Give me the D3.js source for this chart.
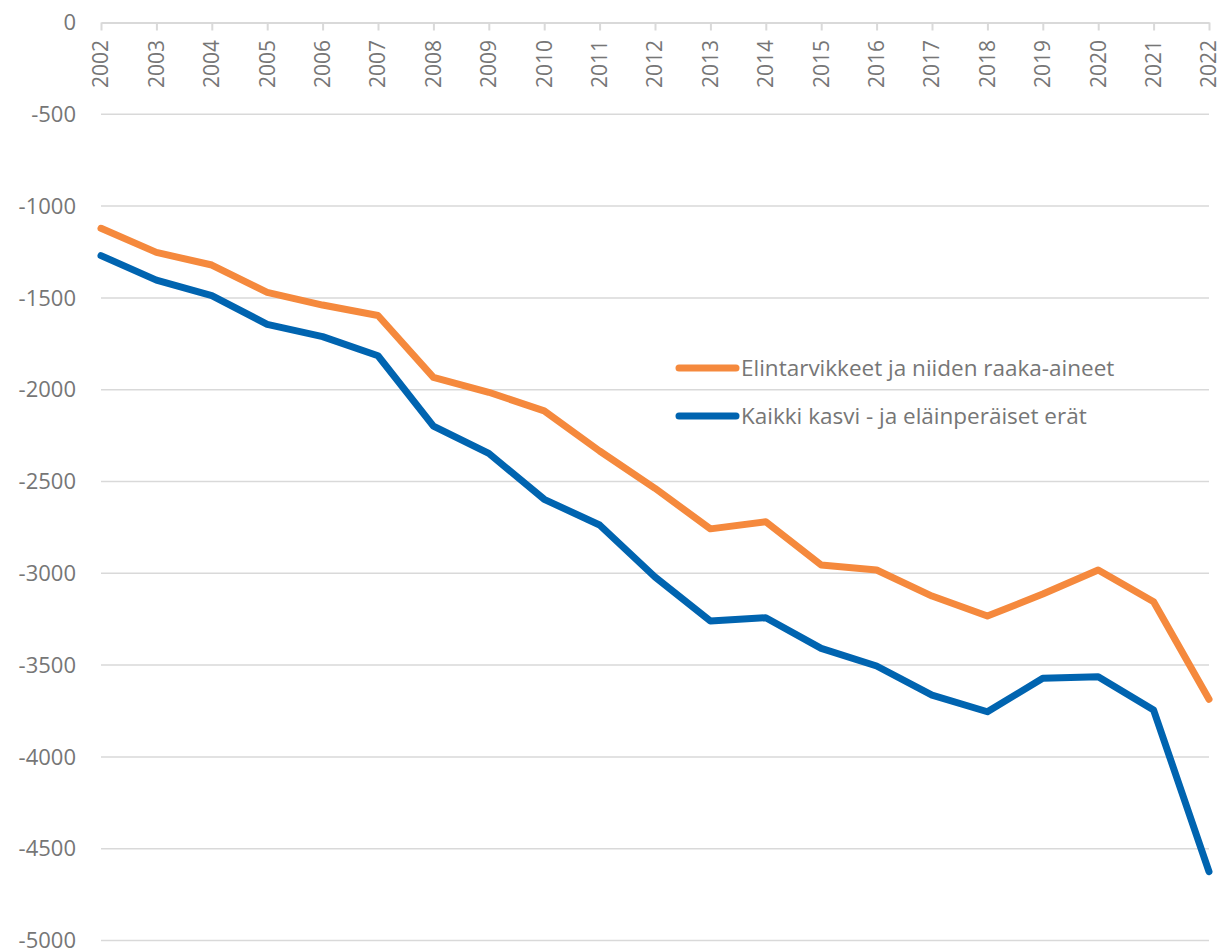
<!DOCTYPE html>
<html>
<head>
<meta charset="utf-8">
<script src="https://cdn.jsdelivr.net/npm/d3@7"></script>
<style>
    body { margin: 0; background: #fff; }
    text { font-family: "Open Sans", sans-serif; fill: #767676; }
</style>
</head>
<body>
<div id="chart"></div>
<script>
// data
var years = d3.range(2002, 2023);
var foodValues = [-1121, -1252, -1321, -1470, -1539, -1596, -1933, -2014, -2115, -2334, -2537, -2758,
    -2719, -2955, -2982, -3124, -3233, -3113, -2982, -3155, -3686];
var allValues = [-1270, -1403, -1488, -1644, -1711, -1815, -2198, -2347, -2597, -2737, -3020, -3260,
    -3242, -3409, -3505, -3663, -3754, -3572, -3563, -3745, -4625];
var yTicks = d3.range(0, -5001, -500);
var seriesNames = ["Elintarvikkeet ja niiden raaka-aineet", "Kaikki kasvi - ja eläinperäiset erät"];
var seriesColors = ["#F5893D", "#0064B0"];

var width = 1218, height = 952;

var svg = d3.select("#chart").append("svg")
    .attr("width", width)
    .attr("height", height);

// scales
var xScale = d3.scalePoint()
    .domain(years)
    .range([101, 1209]);

var yScale = d3.scaleLinear()
    .domain([0, -5000])
    .range([22.5, 940.5]);

// horizontal gridlines
svg.append("g")
    .selectAll("line")
    .data(yTicks.slice(1))
    .enter().append("line")
    .attr("x1", 101)
    .attr("x2", 1209)
    .attr("y1", function (d) { return yScale(d); })
    .attr("y2", function (d) { return yScale(d); })
    .attr("stroke", "#d9d9d9")
    .attr("stroke-width", 1.5);

// y labels
svg.append("g")
    .selectAll("text")
    .data(yTicks)
    .enter().append("text")
    .attr("x", 76)
    .attr("y", function (d) { return yScale(d); })
    .attr("dy", "0.35em")
    .attr("text-anchor", "end")
    .style("font-size", "22px")
    .text(function (d) { return d; });

// x axis at the top (value 0)
var xAxis = svg.append("g")
    .attr("transform", "translate(0," + yScale(0) + ")")
    .call(d3.axisBottom(xScale).tickSize(8).tickSizeOuter(0).tickFormat(""));
xAxis.select(".domain").attr("stroke", "#d9d9d9").attr("stroke-width", 2);
xAxis.selectAll(".tick line").attr("stroke", "#d9d9d9").attr("stroke-width", 2);

// rotated year labels
svg.append("g")
    .selectAll("text")
    .data(years)
    .enter().append("text")
    .attr("transform", function (d) { return "translate(" + xScale(d) + ",40) rotate(-90)"; })
    .attr("dy", "0.35em")
    .attr("text-anchor", "end")
    .style("font-size", "21px")
    .text(function (d) { return d; });

// lines
var lineGenerator = d3.line()
    .x(function (d, i) { return xScale(years[i]); })
    .y(function (d) { return yScale(d); });

[foodValues, allValues].forEach(function (values, i) {
    svg.append("path")
        .datum(values)
        .attr("fill", "none")
        .attr("stroke", seriesColors[i])
        .attr("stroke-width", 7)
        .attr("stroke-linejoin", "round")
        .attr("stroke-linecap", "round")
        .attr("d", lineGenerator);
});

// legend
var legend = svg.append("g");
seriesNames.forEach(function (name, i) {
    var y = 368 + i * 48;
    legend.append("line")
        .attr("x1", 679)
        .attr("x2", 736)
        .attr("y1", y)
        .attr("y2", y)
        .attr("stroke", seriesColors[i])
        .attr("stroke-width", 7)
        .attr("stroke-linecap", "round");
    legend.append("text")
        .attr("x", 741)
        .attr("y", y)
        .attr("dy", "0.35em")
        .style("font-size", "22.5px")
        .text(name);
});
</script>
</body>
</html>
